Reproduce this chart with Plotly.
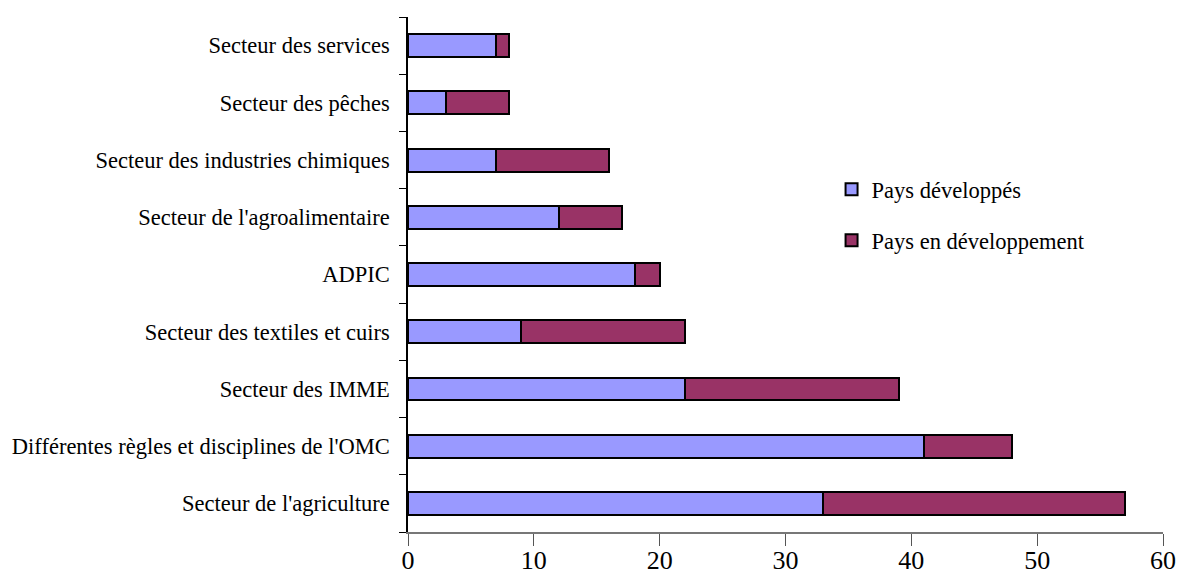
import plotly.graph_objects as go

categories = [
    "Secteur de l'agriculture",
    "Différentes règles et disciplines de l'OMC",
    "Secteur des IMME",
    "Secteur des textiles et cuirs",
    "ADPIC",
    "Secteur de l'agroalimentaire",
    "Secteur des industries chimiques",
    "Secteur des pêches",
    "Secteur des services",
]
developpes = [33, 41, 22, 9, 18, 12, 7, 3, 7]
en_developpement = [24, 7, 17, 13, 2, 5, 9, 5, 1]
x_ticks = [0, 10, 20, 30, 40, 50, 60]

font_family = "Liberation Serif, Times New Roman, serif"

fig = go.Figure()
fig.add_trace(go.Bar(
    y=categories, x=developpes, orientation="h", name="Pays développés",
    marker=dict(color="#9999FF", line=dict(color="black", width=2)),
    legend="legend",
))
fig.add_trace(go.Bar(
    y=categories, x=en_developpement, orientation="h", name="Pays en développement",
    marker=dict(color="#993366", line=dict(color="black", width=2)),
    legend="legend2",
))

fig.update_layout(
    barmode="stack",
    bargap=0.6,
    width=1181, height=581,
    showlegend=True,
    margin=dict(l=408, r=18, t=17, b=49),
    plot_bgcolor="white", paper_bgcolor="white",
    font=dict(family=font_family, color="black", size=22.5),
    legend=dict(x=0.561, y=0.665, xanchor="left", yanchor="middle",
                font=dict(size=22.5), bgcolor="rgba(0,0,0,0)",
                itemwidth=30),
    legend2=dict(x=0.561, y=0.566, xanchor="left", yanchor="middle",
                 font=dict(size=22.5), bgcolor="rgba(0,0,0,0)",
                 itemwidth=30),
    xaxis=dict(range=[0, 60], tickvals=x_ticks, ticks="outside", ticklen=12,
               tickcolor="#555", showline=True, linecolor="#777", linewidth=2,
               showgrid=False, zeroline=False, tickfont=dict(size=26),
               ticklabelstandoff=-8, automargin=False),
    yaxis=dict(type="category", categoryorder="array", categoryarray=categories,
               ticks="outside", ticklen=7, tickson="boundaries", tickcolor="black",
               showline=True, linecolor="black", linewidth=1.5, showgrid=False,
               ticklabelstandoff=12, tickfont=dict(size=22.5), automargin=False),
)

fig.write_html("out.html", post_script="document.body.style.margin='0';",
               config={"displayModeBar": False})
